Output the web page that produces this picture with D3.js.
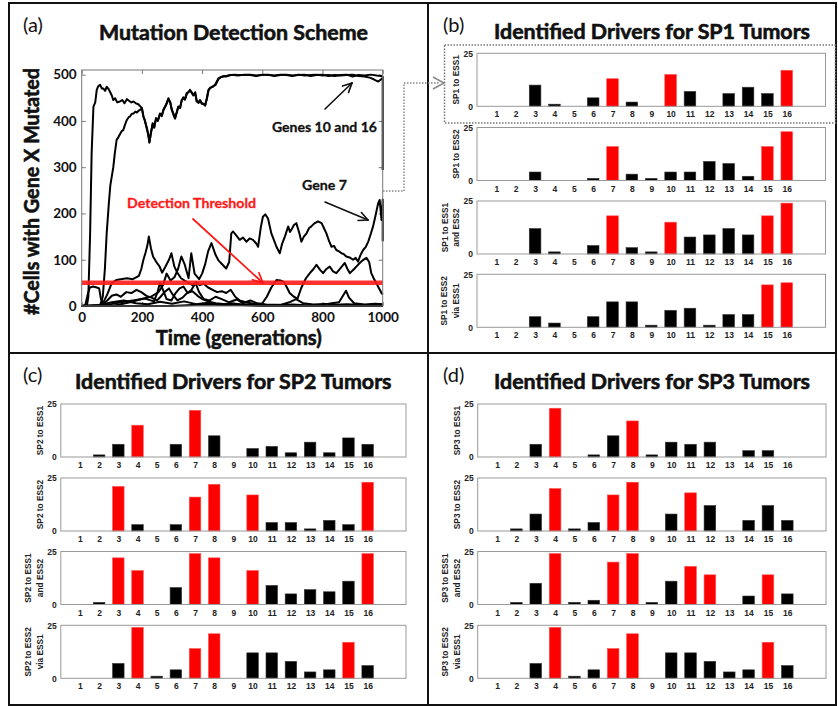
<!DOCTYPE html>
<html><head><meta charset="utf-8">
<script src="https://cdn.jsdelivr.net/npm/d3@7/dist/d3.min.js"></script>
<style>body{margin:0;background:#fff} svg{display:block;background:#fff}</style>
</head><body>
<svg id="fig" width="838" height="706"></svg>
<script>
// ================= DATA =================
// Panel (a): number of cells with gene X mutated vs time (generations)
const timeTicks = [0, 200, 400, 600, 800, 1000];
const countTicks = [0, 100, 200, 300, 400, 500];
const detectionThreshold = 50;

const gene10Counts = [[0,0],[17,0],[22,20],[28,157],[33,330],[39,431],[45,440],[50,467],[55,475],[61,478],[67,470],[72,470],[78,465],[83,474],[90,468],[94,463],[100,455],[105,445],[111,449],[118,440],[127,442],[135,445],[142,438],[150,447],[158,443],[165,440],[172,442],[180,438],[188,436],[194,432],[200,428],[205,409],[210,400],[216,384],[221,370],[225,353],[230,375],[236,395],[241,385],[247,406],[253,400],[260,416],[266,410],[272,425],[277,431],[283,440],[288,449],[294,440],[299,424],[305,415],[310,406],[316,420],[321,431],[327,428],[332,445],[338,450],[343,447],[349,460],[355,462],[360,467],[366,460],[371,456],[377,462],[382,442],[388,440],[393,445],[399,438],[405,436],[410,434],[416,450],[421,467],[427,472],[437,474],[445,480],[454,492],[462,494],[471,497],[480,496],[490,499],[504,499],[520,498],[540,500],[560,499],[580,497],[600,500],[620,499],[640,498],[660,500],[680,499],[700,497],[720,500],[740,498],[760,499],[780,500],[800,498],[820,499],[840,497],[860,499],[880,500],[900,496],[920,499],[940,498],[960,500],[980,498],[995,497],[1000,495],[1000,294]];

const gene16Counts = [[0,0],[55,0],[62,3],[70,20],[77,80],[83,157],[90,220],[95,260],[100,280],[105,300],[110,330],[116,359],[122,365],[128,372],[133,378],[138,380],[144,392],[150,402],[156,408],[161,410],[166,415],[172,416],[178,420],[183,418],[189,422],[194,424],[200,427],[205,410],[210,401],[216,386],[221,372],[225,355],[230,373],[236,394],[241,387],[247,405],[253,401],[260,414],[266,412],[272,424],[277,430],[283,438],[288,447],[294,441],[299,426],[305,413],[310,405],[316,418],[321,430],[327,429],[332,443],[338,451],[343,446],[349,458],[355,463],[360,466],[366,461],[371,455],[377,460],[382,444],[388,439],[393,444],[399,437],[405,437],[410,433],[416,448],[421,465],[427,471],[437,475],[445,478],[454,490],[462,495],[471,496],[480,497],[490,498],[504,500],[520,499],[540,499],[560,500],[580,498],[600,499],[620,500],[640,497],[660,499],[680,500],[700,498],[720,499],[740,500],[760,497],[780,499],[800,500],[820,497],[840,499],[860,498],[880,499],[900,500],[920,497],[940,496],[960,493],[975,488],[985,485],[995,490],[1000,492]];

const gene7Counts = [[0,0],[100,0],[130,4],[160,8],[200,15],[230,20],[255,30],[270,45],[282,70],[295,55],[308,62],[320,80],[331,107],[342,90],[355,60],[364,114],[375,70],[390,58],[400,70],[410,90],[420,118],[431,136],[445,110],[455,98],[464,92],[480,81],[490,95],[497,157],[503,161],[514,152],[525,143],[536,148],[547,139],[558,146],[569,143],[580,135],[586,128],[595,170],[602,193],[610,198],[619,189],[630,157],[640,140],[647,128],[658,114],[666,135],[675,150],[686,172],[692,160],[697,165],[705,175],[713,179],[722,160],[730,139],[738,150],[747,157],[755,168],[763,172],[772,178],[785,183],[797,179],[805,168],[813,157],[822,140],[830,128],[838,130],[846,121],[855,118],[863,114],[871,112],[879,107],[890,105],[902,100],[910,104],[918,96],[926,110],[935,121],[944,128],[952,139],[960,155],[968,172],[976,195],[985,222],[990,229],[996,186],[1000,230],[1000,140]];

const geneDCounts = [[0,0],[50,0],[70,5],[85,25],[100,50],[115,56],[130,58],[150,60],[170,58],[190,65],[198,80],[205,100],[212,115],[218,130],[223,150],[230,125],[237,107],[248,95],[259,85],[267,72],[278,85],[290,100],[298,114],[308,85],[318,72],[330,60],[342,55],[355,50],[368,45],[380,52],[392,45],[405,48],[420,40],[435,35],[450,30],[465,32],[480,28],[495,35],[510,20],[525,12],[545,8],[570,5],[610,3],[680,2],[760,0],[1000,0]];

const geneECounts = [[0,0],[300,0],[400,3],[480,2],[560,4],[600,6],[615,20],[630,40],[647,56],[660,55],[672,52],[682,40],[691,28],[705,20],[717,16],[730,40],[745,60],[758,71],[770,80],[780,89],[792,78],[802,71],[813,80],[824,85],[835,75],[846,71],[860,82],[874,93],[883,80],[891,71],[905,80],[918,89],[932,98],[946,104],[955,95],[962,71],[970,60],[979,49],[988,38],[996,28],[1000,25]];

const geneFCounts = [[0,0],[12,2],[20,25],[27,40],[38,42],[50,40],[58,38],[64,15],[72,5],[85,12],[100,22],[115,25],[130,20],[148,30],[165,28],[182,35],[198,30],[215,22],[232,18],[250,12],[262,20],[275,30],[290,38],[302,25],[318,12],[335,18],[350,28],[368,32],[385,22],[400,15],[420,10],[445,6],[480,4],[530,2],[600,0],[1000,0]];

const geneGCounts = [[0,0],[90,3],[130,8],[170,12],[210,16],[240,10],[252,30],[260,50],[270,35],[282,15],[298,12],[312,28],[325,38],[338,42],[352,28],[365,35],[378,50],[390,30],[405,15],[425,12],[445,20],[465,15],[490,8],[515,14],[535,6],[560,12],[585,5],[615,2],[650,0],[690,8],[712,15],[735,6],[770,3],[820,5],[855,8],[868,22],[878,33],[888,18],[905,6],[940,3],[975,5],[1000,4]];

const geneHCounts = [[0,0],[60,2],[100,8],[140,12],[180,6],[220,4],[260,9],[300,5],[340,10],[380,4],[420,7],[460,3],[500,6],[540,2],[580,4],[640,1],[700,3],[760,1],[820,2],[880,4],[940,2],[1000,3]];

// Panels (b)-(d): identified drivers, genes 1..16
const geneLabels = d3.range(1, 17);
const barTicks = [0, 25];

const sp1ToEss1 = [0,0,10,1,0,4,13,2,0,15,7,0,6,9,6,17];
const sp1ToEss2 = [0,0,4,0,0,1,16,3,1,4,4,9,8,2,16,23];
const sp1ToBoth = [0,0,12,1,0,4,18,3,1,15,8,9,12,9,18,24];
const sp1ViaEss1 = [0,0,5,2,0,5,12,12,1,8,9,1,6,6,20,21];
const sp1Ess1Drivers = [7,10,16];
const sp1Ess2Drivers = [7,15,16];
const sp1BothDrivers = [7,10,15,16];
const sp1ViaDrivers = [15,16];

const sp2ToEss1 = [0,1,6,15,0,6,22,10,0,4,5,2,7,2,9,6];
const sp2ToEss2 = [0,0,21,3,0,3,16,22,0,17,4,4,1,5,3,23];
const sp2ToBoth = [0,1,22,16,0,8,24,22,0,16,9,5,7,6,11,24];
const sp2ViaEss1 = [0,0,7,24,1,4,14,21,0,12,12,8,3,4,17,6];
const sp2Ess1Drivers = [4,7];
const sp2Ess2Drivers = [3,7,8,10,16];
const sp2BothDrivers = [3,4,7,8,10,16];
const sp2ViaDrivers = [4,7,8,15];

const sp3ToEss1 = [0,0,6,23,0,1,10,17,1,7,6,7,0,3,3,0];
const sp3ToEss2 = [0,1,8,20,1,4,17,23,0,8,18,12,0,5,12,5];
const sp3ToBoth = [0,1,10,24,1,2,20,24,1,11,18,14,0,4,14,5];
const sp3ViaEss1 = [0,0,7,24,1,4,14,21,0,12,12,8,3,4,17,6];
const sp3Ess1Drivers = [4,8];
const sp3Ess2Drivers = [4,7,8,11];
const sp3BothDrivers = [4,7,8,11,12,15];
const sp3ViaDrivers = [4,7,8,15];

// ================= DRAWING =================
const svg = d3.select('#fig');
const TITLE_FONT = 'Lato, "Open Sans", sans-serif';
const SMALL_FONT = 'Liberation Sans, Arial, sans-serif';

// Frame and dividers
svg.append('rect').attr('x', 9).attr('y', 3).attr('width', 827).attr('height', 702)
  .attr('fill', 'none').attr('stroke', '#111').attr('stroke-width', 2);
svg.append('line').attr('x1', 428).attr('x2', 428).attr('y1', 3).attr('y2', 705)
  .attr('stroke', '#111').attr('stroke-width', 2);
svg.append('line').attr('x1', 9).attr('x2', 836).attr('y1', 353).attr('y2', 353)
  .attr('stroke', '#111').attr('stroke-width', 2);

function addText(txt, x, y, opts) {
  const t = svg.append('text').attr('x', x).attr('y', y).text(txt)
    .style('font-family', opts.family || TITLE_FONT)
    .attr('font-size', opts.size)
    .attr('font-weight', opts.weight || 'normal')
    .attr('fill', opts.fill || '#111')
    .attr('text-anchor', opts.anchor || 'start');
  if (opts.heavy) t.attr('stroke', opts.fill || '#111').attr('stroke-width', opts.heavy);
  if (opts.len) t.attr('textLength', opts.len).attr('lengthAdjust', 'spacingAndGlyphs');
  if (opts.rotate) t.attr('transform', `rotate(${opts.rotate},${x},${y})`);
  return t;
}

function arrow(g, x1, y1, x2, y2, color, w, head) {
  g.append('line').attr('x1', x1).attr('y1', y1).attr('x2', x2).attr('y2', y2)
    .attr('stroke', color).attr('stroke-width', w).attr('stroke-linecap', 'round');
  const a = Math.atan2(y2 - y1, x2 - x1);
  [0.45, -0.45].forEach(d => {
    g.append('line').attr('x1', x2).attr('y1', y2)
      .attr('x2', x2 - head * Math.cos(a + d)).attr('y2', y2 - head * Math.sin(a + d))
      .attr('stroke', color).attr('stroke-width', w).attr('stroke-linecap', 'round');
  });
}

// ---------- Panel (a) ----------
addText('(a)', 23, 32, {size: 20});
addText('Mutation Detection Scheme', 99, 40, {size: 21, weight: 'bold', len: 269, heavy: 0.6});

const xA = d3.scaleLinear().domain([0, 1000]).range([81.7, 382.7]);
const yA = d3.scaleLinear().domain([0, 510]).range([306, 70]);
const gA = svg.append('g');

function styleAxis(g, size, family, fill) {
  g.select('.domain').remove();
  g.attr('font-size', size).attr('font-weight', 'bold');
  g.selectAll('.tick text').attr('fill', fill || '#111').style('font-family', family);
  g.selectAll('.tick line').attr('stroke', '#777');
}

gA.append('g').attr('transform', 'translate(0,306)')
  .call(d3.axisBottom(xA).tickValues(timeTicks).tickFormat(d3.format('d')).tickSizeInner(-4).tickSizeOuter(0).tickPadding(6))
  .call(g => styleAxis(g, 13.5, TITLE_FONT));
gA.append('g').attr('transform', 'translate(0,70)')
  .call(d3.axisTop(xA).tickValues(timeTicks).tickSizeInner(-4).tickSizeOuter(0).tickFormat(''))
  .call(g => styleAxis(g, 13.5, TITLE_FONT));
gA.append('g').attr('transform', 'translate(81.7,0)')
  .call(d3.axisLeft(yA).tickValues(countTicks).tickFormat(d3.format('d')).tickSizeInner(-4).tickSizeOuter(0).tickPadding(5))
  .call(g => styleAxis(g, 13.5, TITLE_FONT));
gA.append('g').attr('transform', 'translate(382.7,0)')
  .call(d3.axisRight(yA).tickValues(countTicks).tickSizeInner(-4).tickSizeOuter(0).tickFormat(''))
  .call(g => styleAxis(g, 13.5, TITLE_FONT));

const lineGen = d3.line().x(d => xA(d[0])).y(d => yA(d[1]));
[geneHCounts, geneGCounts, geneFCounts, geneDCounts, geneECounts, gene7Counts, gene16Counts, gene10Counts]
  .forEach(series => {
    gA.append('path').datum(series).attr('d', lineGen)
      .attr('fill', 'none').attr('stroke', '#000').attr('stroke-width', 2)
      .attr('stroke-linejoin', 'round');
  });

gA.append('line').attr('x1', xA(0)).attr('x2', xA(1000))
  .attr('y1', yA(detectionThreshold)).attr('y2', yA(detectionThreshold))
  .attr('stroke', '#ff1a1a').attr('stroke-width', 4.5).attr('stroke-opacity', 0.9);

gA.append('rect').attr('x', 81.7).attr('y', 70).attr('width', 301).attr('height', 236)
  .attr('fill', 'none').attr('stroke', '#777').attr('stroke-width', 1);

addText('Time (generations)', 238.8, 345, {size: 21, weight: 'bold', anchor: 'middle', len: 166, heavy: 0.6});
addText('#Cells with Gene X Mutated', 39, 191.5, {size: 21, weight: 'bold', anchor: 'middle', len: 247, rotate: -90, heavy: 0.6});

addText('Detection Threshold', 127, 208, {size: 14, weight: 'bold', fill: '#ff1a1a', len: 129, heavy: 0.3});
arrow(gA, 193, 219, 263, 283, '#ff1a1a', 1.8, 11);
addText('Genes 10 and 16', 272, 132, {size: 14, weight: 'bold', len: 105, heavy: 0.3});
arrow(gA, 325, 109, 352, 83, '#111', 1.6, 10);
addText('Gene 7', 302, 190, {size: 14, weight: 'bold', len: 45, heavy: 0.3});
arrow(gA, 325, 202, 368, 220, '#111', 1.6, 10);

// dotted connector to panel (b)
svg.append('path').attr('d', 'M383,191 H404 V83 H440')
  .attr('fill', 'none').attr('stroke', '#888').attr('stroke-width', 1.5).attr('stroke-dasharray', '1.5,1.5');
svg.append('path').attr('d', 'M433,77 L444,83 L433,89')
  .attr('fill', 'none').attr('stroke', '#888').attr('stroke-width', 1.5);
svg.append('rect').attr('x', 444.5).attr('y', 45).attr('width', 391).attr('height', 78)
  .attr('fill', 'none').attr('stroke', '#777').attr('stroke-width', 1.5).attr('stroke-dasharray', '1.5,1.5');

// ---------- Bar panels ----------
function barPanel(rows, x0, x1, tops, h) {
  const g = svg.append('g');
  rows.forEach((r, i) => {
    const top = tops[i], bottom = top + h;
    const x = d3.scaleLinear().domain([0, 18]).range([x0, x1]);
    const y = d3.scaleLinear().domain([0, 25]).range([bottom, top]);
    const bw = (x(1) - x(0)) * 0.6;
    const data = geneLabels.map((gn, k) => ({gene: gn, v: r.values[k], red: r.drivers.includes(gn)}))
      .filter(d => d.v > 0);
    g.selectAll(null).data(data).enter().append('rect')
      .attr('x', d => x(d.gene) - bw / 2).attr('y', d => y(d.v))
      .attr('width', bw).attr('height', d => y(0) - y(d.v))
      .attr('fill', d => d.red ? '#ff0000' : '#000')
      .attr('stroke', d => d.red ? '#ff5050' : '#333').attr('stroke-width', 0.6);
    g.append('rect').attr('x', x0).attr('y', top).attr('width', x1 - x0).attr('height', h)
      .attr('fill', 'none').attr('stroke', '#999').attr('stroke-width', 1);
    g.append('g').attr('transform', `translate(0,${bottom})`)
      .call(d3.axisBottom(x).tickValues(geneLabels).tickSize(0).tickPadding(5))
      .call(a => styleAxis(a, 8.5, SMALL_FONT, '#222'));
    g.append('g').attr('transform', `translate(${x0},0)`)
      .call(d3.axisLeft(y).tickValues(barTicks).tickSize(0).tickPadding(4))
      .call(a => styleAxis(a, 8.5, SMALL_FONT, '#222'));
    const cy = (top + bottom) / 2;
    const offs = r.label.length === 1 ? [-21] : [-32.5, -21];
    r.label.forEach((ln, j) => {
      const lx = x0 + offs[j];
      g.append('text').text(ln).attr('x', lx).attr('y', cy)
        .attr('transform', `rotate(-90,${lx},${cy})`)
        .attr('text-anchor', 'middle').attr('dominant-baseline', 'central')
        .style('font-family', SMALL_FONT).attr('font-size', 8.3).attr('font-weight', 'bold')
        .attr('fill', '#222');
    });
  });
}

// Panel (b)
addText('(b)', 443, 32, {size: 20});
addText('Identified Drivers for SP1 Tumors', 494, 39, {size: 21, weight: 'bold', len: 316, heavy: 0.6});
barPanel([
  {label: ['SP1 to ESS1'], values: sp1ToEss1, drivers: sp1Ess1Drivers},
  {label: ['SP1 to ESS2'], values: sp1ToEss2, drivers: sp1Ess2Drivers},
  {label: ['SP1 to ESS1', 'and ESS2'], values: sp1ToBoth, drivers: sp1BothDrivers},
  {label: ['SP1 to ESS2', 'via ESS1'], values: sp1ViaEss1, drivers: sp1ViaDrivers}
], 477, 825.5, [53.3, 127.5, 201, 274.3], 53);

// Panel (c)
addText('(c)', 23, 382, {size: 20});
addText('Identified Drivers for SP2 Tumors', 75, 389, {size: 21, weight: 'bold', len: 316.5, heavy: 0.6});
barPanel([
  {label: ['SP2 to ESS1'], values: sp2ToEss1, drivers: sp2Ess1Drivers},
  {label: ['SP2 to ESS2'], values: sp2ToEss2, drivers: sp2Ess2Drivers},
  {label: ['SP2 to ESS1', 'and ESS2'], values: sp2ToBoth, drivers: sp2BothDrivers},
  {label: ['SP2 to ESS2', 'via ESS1'], values: sp2ViaEss1, drivers: sp2ViaDrivers}
], 60.8, 406, [404, 478, 551.5, 625.3], 53);

// Panel (d)
addText('(d)', 443, 382, {size: 20});
addText('Identified Drivers for SP3 Tumors', 494, 389, {size: 21, weight: 'bold', len: 316, heavy: 0.6});
barPanel([
  {label: ['SP3 to ESS1'], values: sp3ToEss1, drivers: sp3Ess1Drivers},
  {label: ['SP3 to ESS2'], values: sp3ToEss2, drivers: sp3Ess2Drivers},
  {label: ['SP3 to ESS1', 'and ESS2'], values: sp3ToBoth, drivers: sp3BothDrivers},
  {label: ['SP3 to ESS2', 'via ESS1'], values: sp3ViaEss1, drivers: sp3ViaDrivers}
], 477.7, 826, [404, 478, 551.5, 625.3], 53);
</script>
</body></html>
